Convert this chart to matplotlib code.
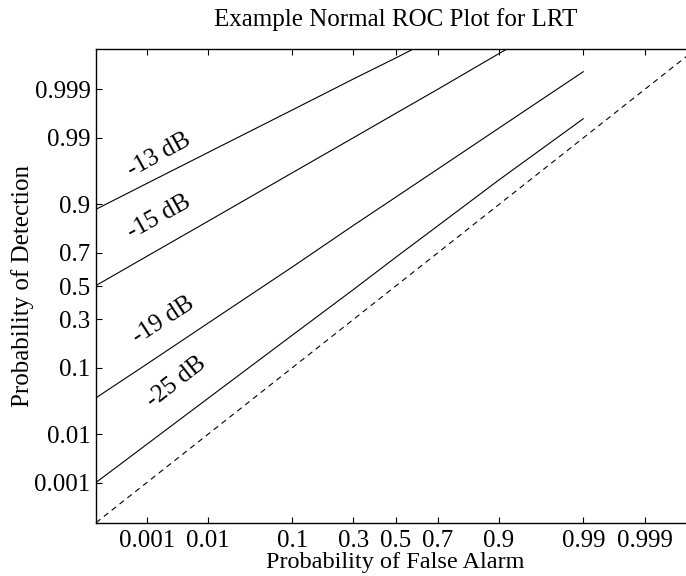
import numpy as np
import matplotlib
matplotlib.use("Agg")
import matplotlib.pyplot as plt
from matplotlib.ticker import FixedLocator, FixedFormatter, NullLocator
from statistics import NormalDist

# --- data (probabilities) ---
pfa = [1e-4, 1e-3, 1e-2, 0.1, 0.3, 0.5, 0.7, 0.9, 0.99]

pd_13db = [0.886, 0.9463, 0.9821, 0.99717, 0.99943, 0.99983, 0.999956]
pd_15db = [0.503, 0.679, 0.846, 0.9625, 0.9901, 0.99666, 0.99901, 0.99987, 0.999995]
pd_19db = [0.0395, 0.1096, 0.2803, 0.618, 0.8297, 0.9186, 0.9671, 0.99347, 0.99962]
pd_25db = [0.00101, 0.0064, 0.039, 0.2204, 0.478, 0.6738, 0.8284, 0.9523, 0.9957]

chance = [1e-4, 0.9999]

curve_labels = ['-13 dB', '-15 dB', '-19 dB', '-25 dB']
label_pfa = [0.00166, 0.00166, 0.00195, 0.0032]
label_pd = [0.980, 0.8606, 0.2967, 0.0659]
label_rot = [29, 29, 33, 38]

tick_vals = [0.001, 0.01, 0.1, 0.3, 0.5, 0.7, 0.9, 0.99, 0.999]
tick_text = ['0.001', '0.01', '0.1', '0.3', '0.5', '0.7', '0.9', '0.99', '0.999']

# --- normal probability scale ---
_nd = NormalDist()
_inv_cdf = np.vectorize(_nd.inv_cdf, otypes=[float])
_cdf = np.vectorize(_nd.cdf, otypes=[float])


def to_normal(p):
    p = np.clip(np.asarray(p, dtype=float), 1e-12, 1 - 1e-12)
    return _inv_cdf(p)


def from_normal(z):
    return _cdf(np.asarray(z, dtype=float))


plt.rcParams['font.family'] = ['Liberation Serif', 'DejaVu Serif']
plt.rcParams['font.size'] = 18

fig = plt.figure(figsize=(6.86, 5.76), dpi=100)
ax = fig.add_axes([96 / 686, 1 - 522.7 / 576, 599.5 / 686, 473.4 / 576])

ax.set_xscale('function', functions=(to_normal, from_normal))
ax.set_yscale('function', functions=(to_normal, from_normal))

ax.plot(pfa[:len(pd_13db)], pd_13db, 'k-', lw=0.8)
ax.plot(pfa, pd_15db, 'k-', lw=0.8)
ax.plot(pfa, pd_19db, 'k-', lw=0.8)
ax.plot(pfa, pd_25db, 'k-', lw=0.8)
ax.plot(chance, chance, 'k--', lw=0.8, dashes=(5, 4))

for txt, xp, yp, rot in zip(curve_labels, label_pfa, label_pd, label_rot):
    ax.text(xp, yp, txt, rotation=rot, ha='center', va='center',
            rotation_mode='anchor')

ax.set_xlim(1e-4, 0.9999)
ax.set_ylim(1e-4, 0.9999)

for axis in (ax.xaxis, ax.yaxis):
    axis.set_major_locator(FixedLocator(tick_vals))
    axis.set_major_formatter(FixedFormatter(tick_text))
    axis.set_minor_locator(NullLocator())

ax.tick_params(direction='in', top=True, right=True, length=4, width=0.8)
ax.tick_params(axis='x', pad=5)
ax.tick_params(axis='y', pad=4)
for sp in ax.spines.values():
    sp.set_linewidth(1.0)

ax.set_title('Example Normal ROC Plot for LRT', fontsize=18, pad=17)
ax.set_xlabel('Probability of False Alarm', fontsize=17.5)
ax.set_ylabel('Probability of Detection')
ax.xaxis.set_label_coords(0.5, -0.062)
ax.yaxis.set_label_coords(-0.103, 0.5)

fig.savefig('out.png', dpi=100)
